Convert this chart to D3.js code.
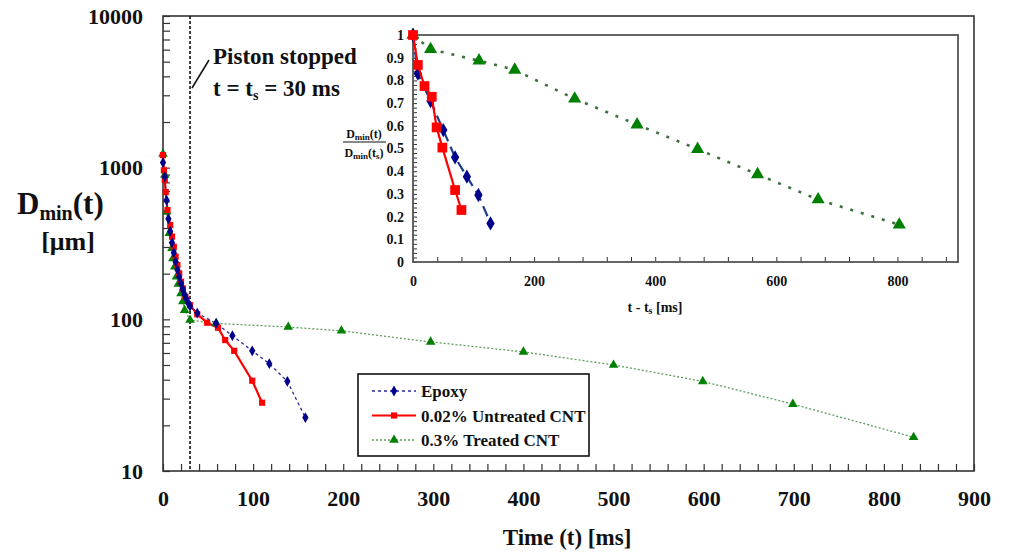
<!DOCTYPE html>
<html>
<head>
<meta charset="utf-8">
<script src="https://cdn.jsdelivr.net/npm/d3@7"></script>
<style>
  html, body { margin: 0; padding: 0; background: #fff; }
  svg { display: block; }
  text { font-family: "Liberation Serif", "Times New Roman", serif; font-weight: bold; fill: #111; }
</style>
</head>
<body>
<svg id="chart" width="1009" height="553"></svg>
<script>
// ---------------- DATA ----------------
// Main chart: time (ms) vs D_min (µm)
const epoxyT = [0, 2, 4, 6, 8, 10, 12, 14, 16, 18, 20, 22, 24, 26, 28, 30, 38, 59, 77, 99, 118, 138, 158];
const epoxyD = [1080, 870, 610, 460, 380, 320, 275, 240, 212, 190, 172, 158, 146, 136, 128, 122, 110, 94, 78, 62, 51, 39, 22.5];

const untreatedT = [0, 1, 2, 3, 5, 8, 10, 12, 14, 16, 18, 20, 22, 25, 30, 38, 49, 61, 69, 79, 99, 110];
const untreatedD = [1210, 960, 830, 690, 525, 418, 351, 301, 259, 228, 201, 177, 160, 141, 124, 108, 95, 88, 73, 62, 39.4, 28.2];

const treatedT = [0, 2, 4, 7, 10, 11, 13, 15, 17, 20, 22, 24, 30, 59, 139, 198, 297, 400, 500, 599, 699, 833];
const treatedD = [1230, 894, 512, 369, 294, 252, 222, 191, 171, 148, 131, 115, 99, 94, 89, 84, 71, 61, 50, 39, 27.6, 16.7];

// Inset: t - ts (ms) vs Dmin(t)/Dmin(ts)
const insetEpoxyT = [0, 8, 29, 50, 69.5, 89, 108, 128];
const insetEpoxyR = [1.0, 0.83, 0.709, 0.581, 0.461, 0.376, 0.295, 0.17];

const insetUntreatedT = [0, 8, 19, 31, 39, 48.5, 69.5, 80];
const insetUntreatedR = [1.0, 0.868, 0.775, 0.728, 0.593, 0.504, 0.317, 0.229];

const insetTreatedT = [0, 29, 109, 168, 267, 370, 470, 569, 669, 803];
const insetTreatedR = [1.0, 0.937, 0.887, 0.846, 0.719, 0.605, 0.497, 0.386, 0.275, 0.164];

// Axis ticks
const xTickLabels = [0, 100, 200, 300, 400, 500, 600, 700, 800, 900];
const yTickLabels = [10, 100, 1000, 10000];
const insetXTickLabels = [0, 200, 400, 600, 800];
const insetYTickLabels = [0, 0.1, 0.2, 0.3, 0.4, 0.5, 0.6, 0.7, 0.8, 0.9, 1];
const pistonStopT = 30;

const seriesNames = ["Epoxy", "0.02% Untreated CNT", "0.3% Treated CNT"];

// ---------------- DRAW ----------------
const svg = d3.select("#chart");
svg.append("rect").attr("width", 1009).attr("height", 553).attr("fill", "#fff");

const x = d3.scaleLinear().domain([0, 900]).range([163, 974]);
const y = d3.scaleLog().domain([10, 10000]).range([471, 16]);

const zip = (a, b) => a.map((v, i) => [v, b[i]]);

const styles = [
  { color: "#00008B", line: "#2a2a9a", dash: "3,3", width: 1.3, sym: d3.symbolDiamond, size: 34, isize: 60, iline: "#1f3c88", idash: "11,6", iwidth: 2.2 },
  { color: "#FF0000", line: "#FF0000", dash: null, width: 2.2, sym: d3.symbolSquare, size: 38, isize: 95, iline: "#FF0000", idash: null, iwidth: 2.2 },
  { color: "#008000", line: "#5a9e5a", dash: "2,2", width: 1.3, sym: d3.symbolTriangle, size: 40, isize: 75, iline: "#3f6f3f", idash: "3,8", iwidth: 2.6 }
];

// Main axes (ticks inward)
const gx = svg.append("g").attr("transform", "translate(0,471)")
  .call(d3.axisBottom(x).tickValues(d3.range(0, 901, 20)).tickSize(-7).tickPadding(19)
    .tickFormat(d => xTickLabels.includes(d) ? d : ""));
gx.select(".domain").remove();
gx.selectAll("line").attr("stroke", "#333").attr("stroke-width", 1.2);
gx.selectAll("text").attr("font-size", 22).attr("fill", "#111");

const yTicks = [];
for (let e = 1; e <= 3; e++) for (let m = 1; m <= 9; m++) yTicks.push(m * Math.pow(10, e));
yTicks.push(10000);
const gy = svg.append("g").attr("transform", "translate(163,0)")
  .call(d3.axisLeft(y).tickValues(yTicks).tickSize(-7).tickPadding(20)
    .tickFormat(d => yTickLabels.includes(d) ? d : ""));
gy.select(".domain").remove();
gy.selectAll("line").attr("stroke", "#333").attr("stroke-width", 1.2);
gy.selectAll("text").attr("font-size", 22).attr("fill", "#111");

// Frame
svg.append("rect").attr("x", 163).attr("y", 16).attr("width", 974 - 163).attr("height", 471 - 16)
  .attr("fill", "none").attr("stroke", "#333").attr("stroke-width", 1.6);

// Piston line
svg.append("line").attr("x1", x(pistonStopT)).attr("x2", x(pistonStopT)).attr("y1", 16).attr("y2", 471)
  .attr("stroke", "#111").attr("stroke-width", 1.6).attr("stroke-dasharray", "3,2");

// Series
const mainData = [zip(epoxyT, epoxyD), zip(untreatedT, untreatedD), zip(treatedT, treatedD)];
const line = d3.line().x(d => x(d[0])).y(d => y(d[1]));
const drawOrder = [2, 1, 0];
drawOrder.forEach(i => {
  const s = styles[i];
  svg.append("path").datum(mainData[i]).attr("d", line).attr("fill", "none")
    .attr("stroke", s.line).attr("stroke-width", s.width).attr("stroke-dasharray", s.dash);
});
drawOrder.forEach(i => {
  const s = styles[i];
  svg.append("g").selectAll("path").data(mainData[i]).join("path")
    .attr("d", d3.symbol().type(s.sym).size(s.size))
    .attr("transform", d => `translate(${x(d[0])},${y(d[1])})`)
    .attr("fill", s.color);
});

// Y title
const yt = svg.append("text").attr("x", 17).attr("y", 214).attr("font-size", 31);
yt.append("tspan").text("D");
yt.append("tspan").attr("font-size", 20).attr("dy", 6).text("min");
yt.append("tspan").attr("dy", -6).text("(t)");
svg.append("text").attr("x", 68).attr("y", 250).attr("text-anchor", "middle").attr("font-size", 26).text("[μm]");

// X title
svg.append("text").attr("x", 567).attr("y", 545).attr("text-anchor", "middle").attr("font-size", 23).text("Time (t) [ms]");

// Annotation
svg.append("line").attr("x1", 192).attr("y1", 88).attr("x2", 209).attr("y2", 60).attr("stroke", "#111").attr("stroke-width", 1.5);
svg.append("text").attr("x", 213).attr("y", 64).attr("font-size", 23).text("Piston stopped");
const an = svg.append("text").attr("x", 213).attr("y", 96).attr("font-size", 23);
an.append("tspan").text("t = t");
an.append("tspan").attr("font-size", 14).attr("dy", 4).text("s");
an.append("tspan").attr("dy", -4).text(" = 30 ms");

// Legend
const lg = svg.append("g");
lg.append("rect").attr("x", 358).attr("y", 374).attr("width", 231).attr("height", 82)
  .attr("fill", "#fff").attr("stroke", "#111").attr("stroke-width", 1.6);
seriesNames.forEach((name, i) => {
  const s = styles[i];
  const yy = 391 + i * 24.5;
  lg.append("line").attr("x1", 372).attr("x2", 416).attr("y1", yy).attr("y2", yy)
    .attr("stroke", s.line).attr("stroke-width", s.width).attr("stroke-dasharray", s.dash);
  lg.append("path").attr("d", d3.symbol().type(s.sym).size(s.size)).attr("transform", `translate(394,${yy})`).attr("fill", s.color);
  lg.append("text").attr("x", 421).attr("y", yy + 6).attr("font-size", 17).text(name);
});

// ---------------- INSET ----------------
const xi = d3.scaleLinear().domain([0, 900]).range([413, 958]);
const yi = d3.scaleLinear().domain([0, 1]).range([262, 35]);

svg.append("rect").attr("x", 413).attr("y", 35).attr("width", 958 - 413).attr("height", 262 - 35)
  .attr("fill", "#fff");

const gxi = svg.append("g").attr("transform", "translate(0,262)")
  .call(d3.axisBottom(xi).tickValues(d3.range(0, 881, 40)).tickSize(-5).tickPadding(14)
    .tickFormat(d => insetXTickLabels.includes(d) ? d : ""));
gxi.select(".domain").remove();
gxi.selectAll("line").attr("stroke", "#333");
gxi.selectAll("text").attr("font-size", 14).attr("fill", "#111");

const yiMinor = d3.range(0, 51).map(i => i / 50);
const gyi = svg.append("g").attr("transform", "translate(413,0)")
  .call(d3.axisLeft(yi).tickValues(yiMinor).tickSize(-4).tickPadding(9)
    .tickFormat(d => {
      const m = insetYTickLabels.find(v => Math.abs(v - d) < 1e-9);
      return m === undefined ? "" : d3.format("")(m);
    }));
gyi.select(".domain").remove();
gyi.selectAll("line").attr("stroke", "#333");
gyi.selectAll("text").attr("font-size", 14).attr("fill", "#111");

svg.append("rect").attr("x", 413).attr("y", 35).attr("width", 958 - 413).attr("height", 262 - 35)
  .attr("fill", "none").attr("stroke", "#555").attr("stroke-width", 1.8);

const insetData = [zip(insetEpoxyT, insetEpoxyR), zip(insetUntreatedT, insetUntreatedR), zip(insetTreatedT, insetTreatedR)];
const iline = d3.line().x(d => xi(d[0])).y(d => yi(d[1]));
[2, 0, 1].forEach(i => {
  const s = styles[i];
  svg.append("path").datum(insetData[i]).attr("d", iline).attr("fill", "none")
    .attr("stroke", s.iline).attr("stroke-width", s.iwidth).attr("stroke-dasharray", s.idash);
  svg.append("g").selectAll("path").data(insetData[i]).join("path")
    .attr("d", d3.symbol().type(s.sym).size(s.isize))
    .attr("transform", d => `translate(${xi(d[0])},${yi(d[1])})`)
    .attr("fill", s.color);
});

// Inset titles
const num = svg.append("text").attr("x", 364).attr("y", 138).attr("text-anchor", "middle").attr("font-size", 12);
num.append("tspan").text("D");
num.append("tspan").attr("font-size", 9).attr("dy", 2).text("min");
num.append("tspan").attr("dy", -2).text("(t)");
svg.append("line").attr("x1", 343).attr("x2", 386).attr("y1", 142).attr("y2", 142).attr("stroke", "#111").attr("stroke-width", 1.2);
const den = svg.append("text").attr("x", 364).attr("y", 157).attr("text-anchor", "middle").attr("font-size", 12);
den.append("tspan").text("D");
den.append("tspan").attr("font-size", 9).attr("dy", 2).text("min");
den.append("tspan").attr("dy", -2).text("(t");
den.append("tspan").attr("font-size", 9).attr("dy", 2).text("s");
den.append("tspan").attr("dy", -2).text(")");

const ixt = svg.append("text").attr("x", 655).attr("y", 312).attr("text-anchor", "middle").attr("font-size", 14);
ixt.append("tspan").text("t - t");
ixt.append("tspan").attr("font-size", 10).attr("dy", 2).text("s");
ixt.append("tspan").attr("dy", -2).text(" [ms]");
</script>
</body>
</html>
